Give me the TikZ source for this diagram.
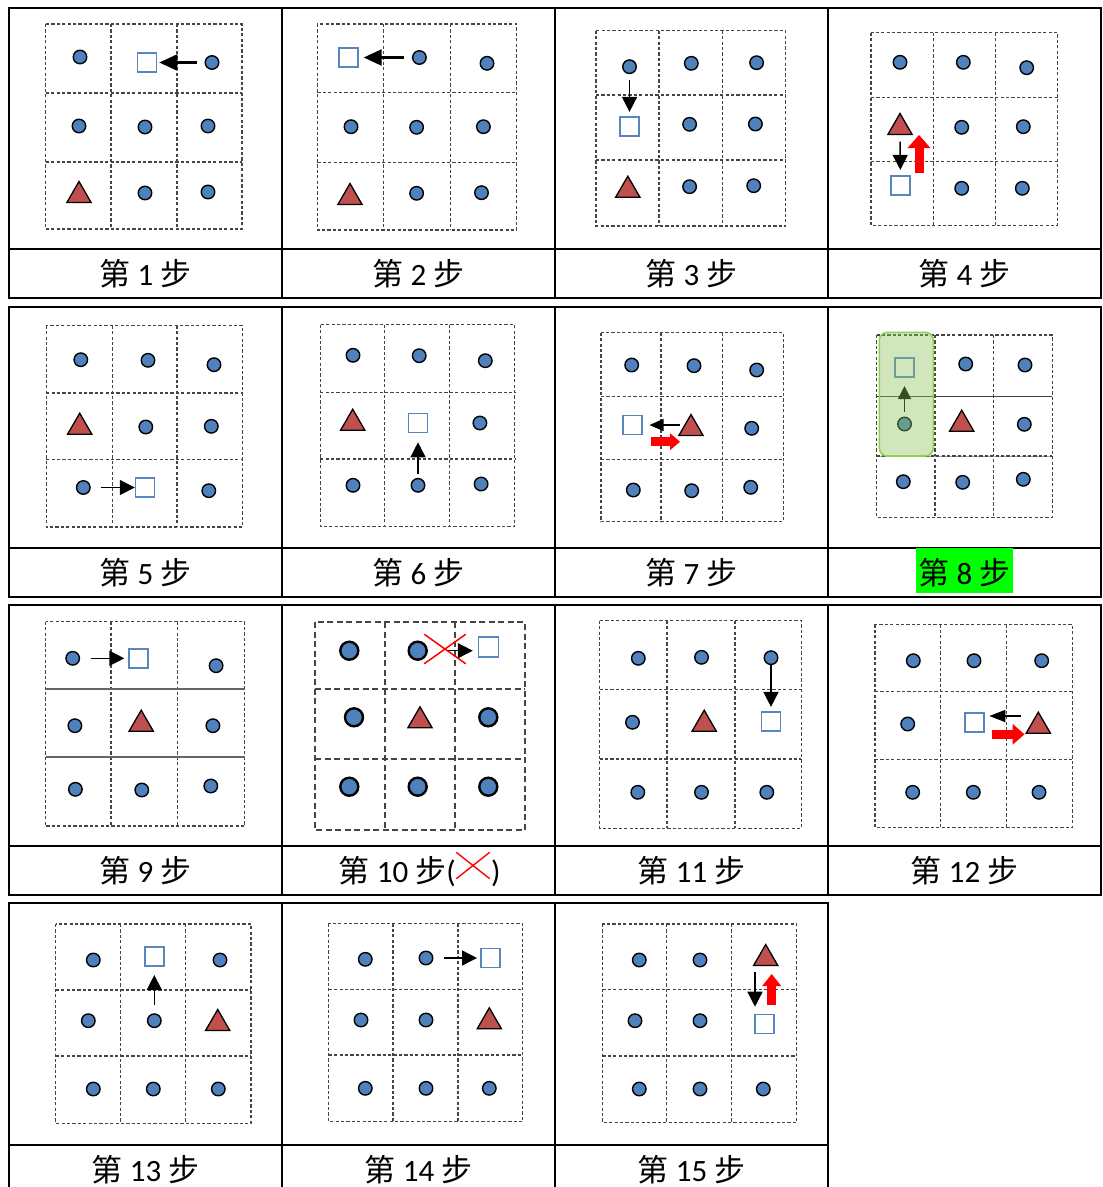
\documentclass[tikz,border=0pt]{standalone}
\usepackage{fontspec}
\setmainfont{Carlito}
\newfontfamily\cjk{Noto Sans CJK SC}
\usetikzlibrary{arrows.meta,shapes.geometric,shapes.misc}
\definecolor{dotblue}{HTML}{4F81BD}
\definecolor{trired}{HTML}{C0504D}
\definecolor{sqblue}{HTML}{5A86C0}
\definecolor{gridgray}{HTML}{454545}
\definecolor{redA}{HTML}{FF0000}
\definecolor{glfill}{HTML}{8DC25A}
\definecolor{glborder}{HTML}{92D050}
\definecolor{hlgreen}{HTML}{00FF00}
\newcommand\mkgrid[9]{\draw[#9] (#1,#2) rectangle (#3,#4) (#5,#2) -- (#5,#4) (#6,#2) -- (#6,#4) (#1,#7) -- (#3,#7) (#1,#8) -- (#3,#8);}
\newcommand\lab[1]{{\cjk 第} #1 {\cjk 步}}
\tikzset{
 dot/.style={circle, fill=dotblue, draw=black, line width=1.4pt, minimum size=13.5pt, inner sep=0pt},
 bigdot/.style={dot, minimum size=18pt, line width=2.4pt},
 sqr/.style={rectangle, draw=sqblue, fill=white, line width=1.6pt, minimum size=19pt, inner sep=0pt},
 tri/.style={regular polygon, regular polygon sides=3, fill=trired, draw=black, line width=1.3pt, minimum size=28pt, inner sep=0pt, yshift=-3.5pt},
 gridl/.style={draw=gridgray, line width=1.1pt, dash pattern=on 3.2pt off 2.2pt},
 gridthick/.style={draw=gridgray, line width=1.8pt, dash pattern=on 6pt off 3.5pt},
 tab/.style={line width=2pt, line cap=rect},
 arr/.style={line width=1.5pt, -{Triangle[length=15pt,width=15pt]}},
 barr/.style={line width=2.4pt, -{Triangle[length=18pt,width=16pt]}},
 rarr/.style={draw=redA, line width=9pt, -{Triangle[length=12pt,width=21pt,line width=0pt]}},
 lbl/.style={anchor=base, font=\fontsize{31}{31}\selectfont, inner sep=0pt}
}
\begin{document}
\begin{tikzpicture}[x=1pt,y=-1pt]
\useasboundingbox (0,0) rectangle (1103,1187);
\fill[white] (0,0) rectangle (1103,1187);
\clip (0,0) rectangle (1103,1187);
% ---------- table ----------
\foreach \t/\s/\b in {8/249/298, 307/548/597, 605/846/895}{
  \draw[tab] (9,\t) rectangle (1101,\b);
  \draw[tab] (9,\s) -- (1101,\s);
  \foreach \xx in {282,555,828}{\draw[tab] (\xx,\t) -- (\xx,\b);}
}
\draw[tab] (9,1200) -- (9,903) -- (828,903) -- (828,1200);
\draw[tab] (282,903) -- (282,1200) (555,903) -- (555,1200) (9,1145) -- (828,1145);
% ---------- step 1 ----------
\mkgrid{45.7}{24}{242}{229}{111}{177}{93}{162}{gridl}
\node[dot] (s1a) at (80,57) {};
\node[sqr] (s1q) at (147,62.5) {};
\node[dot] (s1b) at (212,62.5) {};
\node[dot] (s1c) at (79,126) {};
\node[dot] (s1d) at (145,127) {};
\node[dot] (s1e) at (208,126) {};
\node[tri] (s1t) at (79,192) {};
\node[dot] (s1f) at (145,193) {};
\node[dot] (s1g) at (208,192) {};
\draw[barr, shorten <=8pt, shorten >=2pt] (s1b) -- (s1q);
% ---------- step 2 ----------
\mkgrid{317.3}{24}{516.6}{230}{383.7}{450.9}{92.7}{162.3}{gridl}
\node[sqr] (s2q) at (348.4,57.5) {};
\node[dot] (s2a) at (419.4,57.5) {};
\node[dot] (s2b) at (487,63.3) {};
\node[dot] (s2c) at (351,126.7) {};
\node[dot] (s2d) at (416.6,127.3) {};
\node[dot] (s2e) at (483.4,126.7) {};
\node[tri] (s2t) at (350,194) {};
\node[dot] (s2f) at (416.6,193.3) {};
\node[dot] (s2g) at (481.5,192.7) {};
\draw[barr, shorten <=8pt, shorten >=5pt] (s2a) -- (s2q);
% ---------- step 3 ----------
\mkgrid{596}{30.7}{785.8}{226}{659}{722.6}{95}{160}{gridl}
\node[dot] (s3a) at (629.5,66.7) {};
\node[sqr] (s3q) at (629.5,126.7) {};
\node[dot] (s3b) at (691.3,63.3) {};
\node[dot] (s3c) at (756.6,62.7) {};
\node[dot] (s3d) at (689.6,124.3) {};
\node[dot] (s3e) at (755.4,124) {};
\node[tri] (s3t) at (627.8,186.7) {};
\node[dot] (s3f) at (689.6,186.7) {};
\node[dot] (s3g) at (753.7,185.7) {};
\draw[arr, shorten <=6pt, shorten >=4.5pt] (s3a) -- (s3q);
% ---------- step 4 ----------
\mkgrid{871}{32.7}{1057.7}{225.3}{933.3}{995.7}{97.7}{161.7}{gridl}
\node[dot] (s4a) at (900,62.3) {};
\node[dot] (s4b) at (963.3,62.3) {};
\node[dot] (s4c) at (1026.7,67.7) {};
\node[tri] (s4t) at (900,124) {};
\node[dot] (s4d) at (961.7,127.3) {};
\node[dot] (s4e) at (1023.3,126.7) {};
\node[sqr] (s4q) at (900.5,185.7) {};
\node[dot] (s4f) at (961.7,188.3) {};
\node[dot] (s4g) at (1022.3,188.3) {};
\draw[arr, shorten <=6.5pt, shorten >=5.5pt] (s4t) -- (s4q);
\coordinate (s4r1) at (919,173);
\coordinate (s4r2) at (919,135);
\draw[rarr, -{Triangle[length=13pt,width=23pt,line width=0pt]}] (s4r1) -- (s4r2);
% ---------- step 5 ----------
\mkgrid{46.1}{325.7}{242.7}{527}{112.6}{177}{393}{459.7}{gridl}
\node[dot] (s5a) at (80.8,359.7) {};
\node[dot] (s5b) at (148,360.3) {};
\node[dot] (s5c) at (214,364.7) {};
\node[tri] (s5t) at (79.7,423.7) {};
\node[dot] (s5d) at (145.8,427) {};
\node[dot] (s5e) at (211.3,426.3) {};
\node[dot] (s5f) at (83.3,487.5) {};
\node[sqr] (s5q) at (145.1,487.5) {};
\node[dot] (s5g) at (208.8,490.7) {};
\draw[arr, shorten <=10.5pt, shorten >=0pt] (s5f) -- (s5q);
% ---------- step 6 ----------
\mkgrid{320.2}{324.7}{514.7}{526.3}{384.9}{449.2}{392.3}{459}{gridl}
\node[dot] (s6a) at (353,355.3) {};
\node[dot] (s6b) at (419.2,355.7) {};
\node[dot] (s6c) at (485.3,360.7) {};
\node[tri] (s6t) at (352.7,419.7) {};
\node[sqr] (s6q) at (418,423) {};
\node[dot] (s6d) at (479.9,423) {};
\node[dot] (s6e) at (353,485.3) {};
\node[dot] (s6f) at (418,485.3) {};
\node[dot] (s6g) at (481.1,484) {};
\draw[arr, shorten <=3.5pt, shorten >=9pt] (s6f) -- (s6q);
% ---------- step 7 ----------
\mkgrid{601}{332.7}{783.3}{521.7}{661}{722.3}{396.7}{459.3}{gridl}
\node[dot] (s7a) at (631.7,365) {};
\node[dot] (s7b) at (694,365.7) {};
\node[dot] (s7c) at (756.7,370) {};
\node[sqr] (s7q) at (632.7,425) {};
\node[tri] (s7t) at (691,425) {};
\node[dot] (s7d) at (751.7,428.3) {};
\node[dot] (s7e) at (633.3,490) {};
\node[dot] (s7f) at (691.7,490.7) {};
\node[dot] (s7g) at (750.7,487.3) {};
\draw[arr, -{Triangle[length=14pt,width=12pt]}, shorten <=11.5pt, shorten >=6.5pt] (s7t |- s7q) -- (s7q);
\coordinate (s7r1) at (651,441.7);
\coordinate (s7r2) at (680,441.7);
\draw[rarr, -{Triangle[length=10pt,width=17pt,line width=0pt]}] (s7r1) -- (s7r2);
% ---------- step 8 ----------
\draw[gridl] (876.7,335) rectangle (1052.3,517.3) (935,335) -- (935,517.3) (993.3,335) -- (993.3,517.3);
\draw[draw=gray!70, line width=0.8pt] (876.7,456) -- (1052.3,456);
\draw[gridl] (876.7,456) -- (1052.3,456);
\draw[draw=black!75, line width=1.4pt] (876.7,396.7) -- (1052.3,396.7);
\node[sqr] (s8q) at (904.5,367.7) {};
\node[dot] (s8a) at (965.7,364) {};
\node[dot] (s8b) at (1025,365) {};
\node[dot] (s8c) at (904.5,424) {};
\node[tri] (s8t) at (961.7,420.7) {};
\node[dot] (s8d) at (1024.3,424.3) {};
\node[dot] (s8e) at (903.3,481.7) {};
\node[dot] (s8f) at (962.7,482.3) {};
\node[dot] (s8g) at (1023.3,479.3) {};
\draw[arr, -{Triangle[length=13pt,width=13pt]}, shorten <=5pt, shorten >=8pt] (s8c) -- (s8q);
\fill[glfill, fill opacity=0.4, rounded corners=8pt] (879.3,332.3) rectangle (933.3,456);
\draw[glborder, line width=1.6pt, rounded corners=8pt] (879.3,332.3) rectangle (933.3,456);
% ---------- step 9 ----------
\draw[gridl] (45.6,621.7) rectangle (244.8,826) (111,621.7) -- (111,826) (177.3,621.7) -- (177.3,826);
\draw[draw=black!60, line width=1.7pt] (45.6,689.3) -- (244.8,689.3) (45.6,757.3) -- (244.8,757.3);
\node[dot] (s9a) at (72.7,658.3) {};
\node[sqr] (s9q) at (138.6,658.3) {};
\node[dot] (s9b) at (216.1,665.7) {};
\node[dot] (s9c) at (74.9,725.7) {};
\node[tri] (s9t) at (141.2,720.7) {};
\node[dot] (s9d) at (212.9,725.7) {};
\node[dot] (s9e) at (75.4,789.3) {};
\node[dot] (s9f) at (141.8,790) {};
\node[dot] (s9g) at (210.8,786) {};
\draw[arr, shorten <=11pt, shorten >=4pt] (s9a) -- (s9q);
% ---------- step 10 ----------
\mkgrid{315}{622.3}{525}{830}{385}{455}{689.3}{759.3}{gridthick}
\node[bigdot] (s10a) at (349.3,650.7) {};
\node[bigdot] (s10b) at (417.7,650.7) {};
\node[sqr, minimum size=20pt] (s10q) at (488.3,646.7) {};
\draw[arr, shorten <=18pt, shorten >=15.5pt] (s10b) -- (s10b -| s10q);
\node[cross out, draw=redA, line width=1.5pt, minimum width=40pt, minimum height=28pt, inner sep=0pt] (s10x) at (445,649) {};
\node[bigdot] (s10c) at (354,717.3) {};
\node[tri] (s10t) at (420,717.3) {};
\node[bigdot] (s10d) at (488.3,717.3) {};
\node[bigdot] (s10e) at (349.3,786.7) {};
\node[bigdot] (s10f) at (417.7,786.7) {};
\node[bigdot] (s10g) at (488.3,786.7) {};
% ---------- step 11 ----------
\mkgrid{599.5}{620.7}{801.4}{828.3}{667}{735}{689.3}{759}{gridl}
\node[dot] (s11a) at (638.3,658.3) {};
\node[dot] (s11b) at (701.5,657.3) {};
\node[dot] (s11c) at (771,657.7) {};
\node[dot] (s11d) at (632.5,722.3) {};
\node[tri] (s11t) at (704.2,720.7) {};
\node[sqr] (s11q) at (771,721.7) {};
\node[dot] (s11e) at (637.8,792.3) {};
\node[dot] (s11f) at (701.5,792.3) {};
\node[dot] (s11g) at (766.8,792.3) {};
\draw[arr, shorten <=0pt, shorten >=4.5pt] (s11c) -- (s11q);
% ---------- step 12 ----------
\mkgrid{875}{624.3}{1072.3}{827.7}{940.7}{1006.7}{691.7}{759.3}{gridl}
\node[dot] (s12a) at (913.3,660.7) {};
\node[dot] (s12b) at (974,660.7) {};
\node[dot] (s12c) at (1041.7,660.7) {};
\node[dot] (s12d) at (907.7,724) {};
\node[sqr] (s12q) at (974.3,722.7) {};
\node[tri] (s12t) at (1038.3,722.7) {};
\node[dot] (s12e) at (912.7,792.3) {};
\node[dot] (s12f) at (973.3,792.3) {};
\node[dot] (s12g) at (1039,792.3) {};
\coordinate (s12s) at (1021,716);
\draw[arr, -{Triangle[length=16pt,width=12pt]}, shorten >=15pt] (s12s) -- (s12s -| s12q);
\coordinate (s12r1) at (991.7,734.3);
\coordinate (s12r2) at (1024.5,734.3);
\draw[rarr] (s12r1) -- (s12r2);
% ---------- step 13 ----------
\mkgrid{55.7}{924}{251}{1123.3}{120.7}{185.7}{990}{1056}{gridl}
\node[dot] (s13a) at (93.3,960) {};
\node[sqr] (s13q) at (154.3,956.7) {};
\node[dot] (s13b) at (220,960) {};
\node[dot] (s13c) at (88.3,1020.7) {};
\node[dot] (s13d) at (154.3,1020.7) {};
\node[tri] (s13t) at (217.7,1020) {};
\node[dot] (s13e) at (93.3,1089) {};
\node[dot] (s13f) at (153.3,1089) {};
\node[dot] (s13g) at (218.3,1089) {};
\draw[arr, shorten <=8.5pt, shorten >=8pt] (s13d) -- (s13q);
% ---------- step 14 ----------
\mkgrid{328.7}{923.3}{522.7}{1121.7}{393}{458}{989.3}{1055}{gridl}
\node[dot] (s14a) at (365.3,959.3) {};
\node[dot] (s14b) at (426,958) {};
\node[sqr] (s14q) at (490.3,958) {};
\node[dot] (s14c) at (361,1020) {};
\node[dot] (s14d) at (426,1020) {};
\node[tri] (s14t) at (489.3,1018.3) {};
\node[dot] (s14e) at (365.3,1088.3) {};
\node[dot] (s14f) at (426,1088.3) {};
\node[dot] (s14g) at (489.3,1088.3) {};
\draw[arr, shorten <=10.5pt, shorten >=3pt] (s14b) -- (s14q);
% ---------- step 15 ----------
\mkgrid{602.3}{924}{796.7}{1122.3}{666.7}{731.7}{989.3}{1056}{gridl}
\node[dot] (s15a) at (639.3,960) {};
\node[dot] (s15b) at (700,960) {};
\node[tri] (s15t) at (765.7,955) {};
\node[dot] (s15c) at (635,1020.7) {};
\node[dot] (s15d) at (700,1020.7) {};
\node[sqr] (s15q) at (764.3,1024) {};
\node[dot] (s15e) at (639.3,1089) {};
\node[dot] (s15f) at (700,1089) {};
\node[dot] (s15g) at (763.3,1089) {};
\coordinate (s15s) at (755,971.7);
\draw[arr, shorten >=17.3pt] (s15s) -- (s15s |- s15q);
\coordinate (s15r1) at (771.7,1005);
\coordinate (s15r2) at (771.7,974);
\draw[rarr, -{Triangle[length=12pt,width=19pt,line width=0pt]}] (s15r1) -- (s15r2);
% ---------- labels ----------
\fill[hlgreen] (916,548) rectangle (1013,593);
\node[lbl] (l1) at (145.5,285) {\lab{1}};
\node[lbl] (l2) at (418.5,285) {\lab{2}};
\node[lbl] (l3) at (691.5,285) {\lab{3}};
\node[lbl] (l4) at (964.5,285) {\lab{4}};
\node[lbl] (l5) at (145.5,584) {\lab{5}};
\node[lbl] (l6) at (418.5,584) {\lab{6}};
\node[lbl] (l7) at (691.5,584) {\lab{7}};
\node[lbl] (l8) at (964.5,584) {\lab{8}};
\node[lbl] (l9) at (145.5,882) {\lab{9}};
\node[lbl, anchor=base east] (l10) at (456,882) {\lab{10}(};
\node[cross out, draw=redA, line width=1.4pt, minimum width=32pt, minimum height=25pt, inner sep=0pt] (l10x) at (473,865.5) {};
\node[lbl, anchor=base west] (l10b) at (491,882) {)};
\node[lbl] (l11) at (691.5,882) {\lab{11}};
\node[lbl] (l12) at (964.5,882) {\lab{12}};
\node[lbl] (l13) at (145.5,1181) {\lab{13}};
\node[lbl] (l14) at (418.5,1181) {\lab{14}};
\node[lbl] (l15) at (691.5,1181) {\lab{15}};
\end{tikzpicture}
\end{document}
